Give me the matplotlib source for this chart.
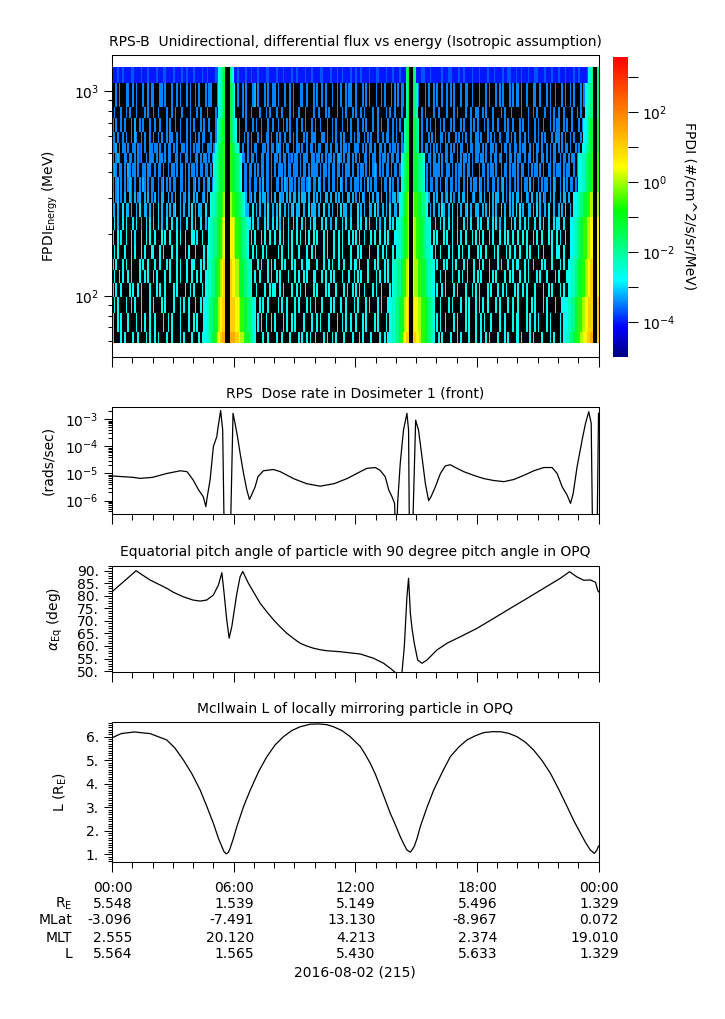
import numpy as np
import matplotlib
matplotlib.use("Agg")
import matplotlib.pyplot as plt
from matplotlib.colors import LinearSegmentedColormap, LogNorm
from matplotlib.ticker import (MultipleLocator, FixedLocator, NullFormatter,
                               NullLocator, FuncFormatter)
from matplotlib.transforms import blended_transform_factory

plt.rcParams["font.family"] = ["DejaVu Sans"]
plt.rcParams["font.size"] = 10

# ---------------- data ----------------
# spectrogram energy bin edges (MeV), low -> high
energy_edges = [58.5, 66.7, 82, 99, 115, 134, 152, 177, 209, 243, 283,
                322, 381, 443, 496, 555, 633, 735, 838, 1090, 1315]
n_cols = 288  # 5 minute bins over the day

# flux codes -> log10 flux (#/cm^2/s/sr/MeV); '.' = no counts (black)
level_codes = "abcdefghijklmn"
level_logs = [-4.0, -3.7, -3.45, -3.2, -2.95, -2.7, -2.3, -1.8, -1.2, -0.6, 0.0, 0.5, 1.0, 1.5]

# background hits per energy row, highest energy first (12 x 2h chunks)
bg_rows = [
    "aaabaabaaaabbaaaabaaabaa" "aabaaabbaaaabaaaabaabaaa" "baaaabaabaaaabbaaabaaaab" "aabaaaabaabaaabaaaabbaaa"
    "abaaabaaaabaabaaaabaaaba" "aaabbaaaabaaabaabaaaabaa" "baabaaaabaaabbaaaabaaaba" "aabaaabaaaabaaabbaaabaaa"
    "aaabaaabbaaaabaabaaaabaa" "abaaaabaaabaaaabaabbaaab" "aabaaabaaabbaaaabaaabaaa" "baaabaaaabaabaaaabaaabba",
    "..c.c...cc..c.c...c..c.c" "c...cc.c...c..c.c...c.c." ".c.c...c.cc...c..c.c...c" "..c..c.c...cd.c...c.c..c"
    "c.c...c..c.c...cc..c...c" ".c..c.c...c..c.c..c.cc.." "c...c.c.c...c..c.c...c.c" ".c.cc...c..c.c...c.c..c."
    "c..c..c.c.c...c..cc..c.." ".c...c.c...c.c.c...c.c.c" "c.c..c...cc..c...c.c..c." "..c.c..c.c...c.c..c...cc",
    ".c...c..c.c...c....c.c.." "c..c....c..c.c...c....c." "..c.c...c....c.c..c..c.." "c....c.c..c....c...c.c.."
    ".c..c....c.c..c...c....c" "..c...c.c....c..c.c...c." "c..c.c....c..c....c.c..c" "...c..c.c...c..c.c....c."
    ".c....c...c.c....c..c..c" "c..c.c...c....c.c...c..." "..c...c..c.c....c..c.c.." "c..c....c..c.c...c....c.",
    "c.c..c.c...c.d..c.c...c." ".c..c...c.c..c..c...c.c." "c...c.c..c...c.c..c.c..c" ".c.c...c...c.c..c...c..c"
    "..c..c.c.c...c..c.c...c." "c..c...c..c.c...c..c.c.." ".c..c.c...c..c.c...c..c." "c.c...c.c...c..c..c.c..c"
    "..c.c...c.c...c.c...c.c." "c...c.c..c..c...c.c..c.." ".c.c..c...c.c..c...c.c.c" "c..c.c..c...c.c..c...c..",
    "cc.c..c.c..c.dc..c.c..c." "c..c.c..c.cc..c.c...c.c." ".c.c.cc...c..c.c.c..c..c" "c..c..c.c.c...c.c..cc.c."
    ".c.c..c..c.c.c...c.c..cc" "c...cc.c..c.c..c.c...c.c" ".cc..c.c.c...c..c.cc..c." "c..c.c...c.cc..c...c.c.c"
    "..cc.c.c...c.c.c.c..c..c" "c.c...c.c.c..c...cc.c.c." ".c..c.c...c.c.c.c...c.cc" "c.c.c..c.c...c..c.c.c...",
    "ccd.c.cc.c..cc.cbc.c..cc" ".cc.c..c.cc.c.c..cc.c.c." "c.cc.c..ccc.c.c..c.cc..c" "cc.c.c..c.c.cc...cc.c.cc"
    ".cdc.c.cc..c.cc.c..c.cc." "c.cc..cc.c..cc.c.cc.c..c" "cc..c.c.cc.c..cc.c..c.cc" ".c.cc.c..c.cc..c.cc.c.c."
    "c.c..cc.c.c.c.cc..c.cc.c" "cc.c.c..cc.c..c.cc.c..cc" ".c.cc..c.c.cc.c..c.c.cc." "c.c.cc.c..c.c.cc.c..cc.c",
    "c.cdc..cc.cc.c.cbc..c.cc" "c.c.cc.c.cc..cc.c..cc.c." ".cc.c.cc.c.c..cbc.c.c.cc" "c.cc.cc.c.cc.c..cc.cc.c."
    "cc.c.cc.cbc.cc.c.ccc..cc" ".cc.c.c.cc.c.cdc.c.cc.c." "c.c..cc.c.cc..c.cc.c.cc." "cc.cc.c..c.c.cc.c..cc.cc"
    ".c.c.cc.cc..c.c.cc.c.c.c" "c.cc.c..c.cc.cc..c.cc.c." "cc..c.cc.c.c..cc.c.c.cc." ".c.cc.c.cc.c.c..cc.c.c.c",
    "cdc.cc.c.dc.cc.c..cc.cc." ".c.cc.c..c.cc.c.cc.c.c.c" "c.c.cc.cc.c.c.cc..c.cc.c" ".cc.c.cc.cc.c.c.cc.cc.c."
    "c.ccc.c.cc.ccc.c.cc.c.cc" "cc.c.cc.c.cc.cc.c.ccc.c." ".c.cc.c.c.cdc.c.c.cc.c.c" "c.c.c.cc.c..cc.cc.c.c.cc"
    "cc.c..cc.c.c.cc.c.cc.c.." ".c.cc.c.cc.c..c.cc.c.cc." "c.cc..c.c.cc.c.c..cc.c.c" "cc.c.cc..c.c.cc.c.c.cc.c",
    "c.cd.c.c.cdc.c..c.dc.c.c" "c..c.cd.c.c.cc..cc.c.c.." "cd.c..c.cd.c.c.c.cc.c.dc" "c.c.d.cc.c..cc.c.d.cc.c."
    ".cc.c.dc.cc.c.c.cc.cdc.c" "c.dc.c..c.cc.c.dc.c..c.c" "cc.c.c.d.c.cc..c.cc.d.c." ".c.cd.c.c..c.dc.c.c.cc.c"
    "c.c..dc.cc.c.c..c.d.c.cc" ".dc.c.c..cc.c.cd.c.c..c." "c.c.cc.d.c..c.c.cc.c.dc." ".c.d.c.cc.c.dc..c.c.c.cc",
    "d.cd.c.d..dc.d.cd..d.d.c" ".d.c.dd..d.c.d..d.cd.d.." "d.d..cd.d..d.dc.d..d.d.d" ".dd.d..d.cd.d..d.dd.c.d."
    "d..dcd.d.d.dd.d.ddd.d..d" ".d.d..dd.d..d.d.d..dd.d." "c.d.dc..d.d.cd.d..d.c.dd" ".d.cd.d..dd.d..c.d.d..d."
    "d..d.cd.d.c..d.dd.d..cd." ".cd.d..d.d.dd..d.c.d.d.d" "d.d..dc.d..d.d.dc..d.d.." ".d.dd.d..cd.d..d.d.dd.d.",
    "dd.d..e.dd.d..d.e..dd.d." "d..e.d..d.d.de..d.d..d.e" ".d.dd..e..d.d..d.ed..d.." "e..d.d.dd..e.d.d..d.e..d"
    ".d.e..d.d.de.dd..d..e.dd" "d.d..e..d.d..d.e.dd..d.." ".e.d.d..dd.e.d..d.d.e..d" "d..d.e.d..d.d.ed..d.d.d."
    ".d.ed..d.e..d.d..de.d..d" "d..d.d.e.d.d..e.d..d.d.e" ".e.d..dd.d.e.d..d.e..d.." "d.d.e..d..d.d.e.dd..d.e.",
    ".e.d..e.e...e.e..d..e.e." "e..e.d..e..e..e.d...e..e" ".e..e..d.e...e..e.e..e.." "e.e...e..e.e..d...e.e..e"
    ".e.d.e..e..e.e..e.d..e.e" "e...e.e..d..e...e.e..e.." ".e.e..e.e...e.d..e..e.e." "e..d.e...e.e..e.e...e..e"
    "..e.e..e.e..e...e.d.e..." "e.e...e..e.e.d..e...e.e." ".e..e.e...e..e.e..e..e.e" "e..e...e.e.d..e.e...e...",
    "f..f.e..f..f.e...f..f.f." ".f...f.f..f...f.f..f...f" "f.e..f...f.f..f...f.e..f" ".f.f...f..f.f...f.f..f.."
    "f..f.f..e.f..f.f..f.f..f" ".f...f.f...f..f.f...f.f." "f.f..e...f.f..f..f.f...f" "..f.f..f...f.f...f..f.f."
    "f...f.f..f..f.e..f...f.f" ".f.f...f.f...f..f.f..f.." "f..f.f...f.f..f...f.f..f" ".e..f..f.f...f.f..f...f.",
    ".f.f...f...f.f...f.f...f" "f...f.f....f..f....f.f.." ".f....f.f.f....f..f...f." "f.f...f....f.f...f.f...."
    "..f.f...f.f...f....f..f." "f....f.f...f..f.f....f.." ".f.f....f....f..f.f...f." "f...f.f...f.f....f...f.f"
    "..f....f.f...f.f...f...." "f.f..f....f.f....f.f..f." ".f...f.f....f..f....f..f" "f..f....f.f...f..f.f....",
    "f.f...f.f..f....f.f..f.." ".f..f...f.f...f.f...f..f" "f...f.f....f.f...f.f...f" ".f.f...f.f....f.f...f.f."
    "f...f.f...f.f...f..ff..." ".f...f..f.f...f..f...f.f" "f.f....f...f.f...f.f...." "..f.f....f...f.f....f.f."
    "f...f.f..f.f....f.f...f." ".f.f...f....f.f...f..f.f" "f...f.f..f....f.f...f..." ".f.f...f..f.f....f.f...f",
    ".f..f.f..f.f....f..f.f.." "f.f....f..f...f.f...f..f" "..f.f..f.f..f....f.f..f." "f....f.f..f.f..f....f.f."
    ".f.f....f...f.f..f.f...f" "f...f.f..f.f....f...f..f" ".f.f...f....f.f..f.f...." "f...f.f..f.f...f....f.f."
    "..f..f...f...f.f..f...f." "f.f....f.f.f....f..f.f.." ".f..f.f....f.f...f....f." "f....f..f.f...f.f..f...f",
    "f.f..f....f.f..f.f....f." "..f.f..f....f.f....f..f." "f....f.f..f....f..f.f..." ".f.f....f.f..f....f..f.f"
    "f..f.f....f..f.f..f....f" ".f....f.f...f....f.f..f." "f.f..f....f.f..f....f..." "..f....f.f....f.f..f..f."
    "f..f.f....f.f....f...f.f" ".f....f.f...f..f.f....f." "f..f.f....f....f..f.f..." ".f.f....f..f.f....f...f.",
    ".f.f....f..f.f...f....f." "f....f.f....f...f.f..f.." ".f..f....f.f..f....f...f" "f.f....f..f....f.f..f..."
    "..f.f..f....f.f....f.f.." "f...f....f.f...f..f....f" ".f....f.f....f.f...f.f.." "f..f.f....f.f....f....f."
    "..f....f.f....f..f.f...f" ".f.f..f....f.f....f..f.." "f....f..f.f....f.f....f." "..f.f....f..f.f....f.f..",
    "f..f.f...f....f..f.f..f." ".f....f..f.f....f....f.." "f.f....f....f.f..f.f...." "..f.f....f....f.f..f..f."
    "f....f.f..f.f....f....f." ".f.f....f....f..f.f..f.." "f...f.f....f.f....f..f.f" "..f....f.f....f.f...f..."
    "f.f..f....f.f....f.f...f" "..f.f...f....f..f....f.f" "f....f.f..f.f....f.f...." ".f.f....f....f.f...f..f.",
    "f....f.f....f..f....f.f." ".f.f....f..f....f.f....f" "...f.f..f....f..f....f.." "f.f....f..f.f....f..f..."
    ".f..f....f....f.f..f.f.." "f....f.f..f.f....f....f." "..f.f....f....f..f.f...f" "f....f..f.f....f....f.f."
    ".f.f....f...f.f....f...f" "..f..f.f....f...f.f....f" "f.f....f.f....f....f.f.." ".f..f....f.f....f..f...f",
]

# radiation belt passes: (first 5-min column, codes) per row, highest energy first
pass1 = [(63, "fghi...hf"), (63, "fghi...ihf"), (63, "fghi...ihf"), (62, "fghii...ihgf"),
         (62, "fghii...ihgf"), (61, "fghiij...jihgf"), (60, "fgghiij...jiihhgf"),
         (60, "fgghiij...jiihhgf"), (60, "fgghiij...jiihhgf"), (58, "fgghhiijk...kjjiihhgf"),
         (58, "fgghhiijk...kjjiihhgf"), (57, "fgghhiijkl...llkjjiihhgf"),
         (57, "fgghhiijkl...llkjjiihhgf"), (57, "fgghhiijkl...llkjjiihhgf"),
         (56, "fgghhiijklm...mllkkjiihhggf"), (56, "fgghhiijklm...mllkkjiihhggf"),
         (56, "fgghhiijklm...mllkkjiihhggf"), (54, "ffgghhiijklmm...mmmllkjjiihhggf"),
         (54, "ffgghhiijklmm...mmmllkjjiihhggf"), (54, "ffgghiijklmnn...nnnmmlkkjiihhgf")]
pass2 = [(174, "hi..ih"), (174, "gi..ihg"), (174, "gi..ihg"), (173, "ghi..iihg"),
         (173, "ghi..iihg"), (173, "ghi..iihg"), (171, "fghij..jiihhgf"),
         (171, "fghij..jiihhgf"), (171, "fghij..jiihhgf"), (170, "fghijk..kjjiihhgf"),
         (170, "fghijk..kjjiihhgf"), (168, "fgghhijk..lkjjiihhggf"),
         (168, "fgghhijk..lkjjiihhggf"), (168, "fgghhijk..lkjjiihhggf"),
         (166, "fgghhiijkl..lkkjjiihhggf"), (166, "fgghhiijkl..lkkjjiihhggf"),
         (166, "fgghhiijkl..lkkjjiihhggf"), (164, "ffgghhiijklm..mllkkjjiihhgf"),
         (164, "ffgghhiijklm..mllkkjjiihhgf"), (164, "ffgghhijklmm..mmllkjjiihhgf")]
pass3 = [(282, "fgh..h"), (280, "ffghh..h"), (280, "ffghh..h"), (279, "ffghii..i"),
         (279, "ffghii..i"), (278, "ffghhii..i"), (276, "ffgghhiij..j"), (276, "ffgghhiij..j"),
         (276, "ffgghhiij..j"), (273, "ffgghhiijjkk..k"), (273, "ffgghhiijjkk..k"),
         (271, "ffgghhiijjkkll..l"), (271, "ffgghhiijjkkll..l"), (271, "ffgghhiijjkkll..l"),
         (270, "ffgghhiijjkklmm..l"), (270, "ffgghhiijjkklmm..l"), (270, "ffgghhiijjkklmm..l"),
         (267, "fffgghhiijjkkllmmm..m"), (267, "fffgghhiijjkkllmmm..m"),
         (267, "ffgghhiijjkkllmmnn..m")]

# dose rate, Dosimeter 1 (rads/sec); 1e-8 = below the plotted range
dose_hours = [0.0, 1.05, 1.38, 2.0, 2.7, 3.37, 3.7, 4.0, 4.27, 4.5, 4.63, 4.7, 4.84, 5.0,
              5.17, 5.24, 5.36, 5.46, 5.55, 5.82, 5.97, 6.07, 6.19, 6.32, 6.49, 6.65, 6.78,
              6.9, 7.06, 7.2, 7.47, 7.96, 8.3, 8.95, 9.6, 10.27, 10.95, 11.6, 12.25, 12.58,
              12.99, 13.23, 13.48, 13.65, 13.81, 13.94, 14.02, 14.09, 14.22, 14.38, 14.55,
              14.63, 14.68, 14.8, 14.98, 15.12, 15.29, 15.46, 15.62, 15.74, 15.95, 16.2,
              16.44, 16.69, 16.94, 17.35, 17.85, 18.34, 18.83, 19.33, 19.82, 20.31, 20.81,
              21.3, 21.71, 21.96, 22.21, 22.45, 22.62, 22.75, 22.94, 23.19, 23.36, 23.52,
              23.64, 23.72, 23.92, 24.0]
dose_rate = [8.1e-6, 7.2e-6, 6.6e-6, 7.2e-6, 1.0e-5, 1.26e-5, 1.17e-5, 5.8e-6, 2.5e-6, 1.4e-6,
             6.0e-7, 1.4e-6, 5.8e-6, 9.8e-5, 2.3e-4, 5.6e-4, 2.1e-3, 4.0e-4, 1e-8, 1e-8,
             1.66e-3, 7.1e-4, 2.3e-4, 5.6e-5, 1.0e-5, 2.5e-6, 1.1e-6, 1.7e-6, 3.2e-6, 7.6e-6,
             1.26e-5, 1.4e-5, 1.17e-5, 6.5e-6, 4.2e-6, 3.4e-6, 4.2e-6, 6.5e-6, 1.17e-5,
             1.55e-5, 1.66e-5, 1.3e-5, 7.6e-6, 2.5e-6, 1.4e-6, 7.9e-7, 1e-8, 7.9e-7, 2.4e-5,
             4.0e-4, 1.66e-3, 4.0e-4, 1e-8, 1e-8, 9.3e-4, 4.0e-4, 4.2e-5, 4.2e-6, 1.0e-6,
             1.4e-6, 3.2e-6, 1.0e-5, 1.9e-5, 2.1e-5, 1.66e-5, 1.17e-5, 8.5e-6, 6.5e-6, 5.5e-6,
             5.0e-6, 6.0e-6, 8.5e-6, 1.26e-5, 1.66e-5, 1.66e-5, 1.0e-5, 3.2e-6, 1.6e-6,
             7.9e-7, 1.8e-6, 1.7e-5, 1.7e-4, 7.1e-4, 1.9e-3, 7.1e-4, 1e-8, 1e-8, 1.66e-3]

# equatorial pitch angle (deg)
pa_hours = [0.0, 1.19, 1.5, 1.88, 2.3, 2.7, 3.03, 3.52, 4.0, 4.35, 4.67, 5.0, 5.25, 5.42,
            5.53, 5.66, 5.78, 5.91, 6.16, 6.32, 6.45, 6.73, 7.31, 7.64, 7.97, 8.3, 8.62,
            8.95, 9.28, 9.6, 9.94, 10.27, 10.6, 11.26, 12.25, 12.9, 13.4, 13.73, 13.98,
            14.3, 14.42, 14.55, 14.63, 14.72, 14.8, 14.91, 15.08, 15.29, 15.54, 16.03,
            16.53, 17.19, 18.0, 18.83, 19.65, 20.48, 21.3, 22.12, 22.57, 22.94, 23.27,
            23.6, 23.85, 23.97, 24.0]
pa_deg = [81.6, 90.0, 88.3, 86.3, 84.6, 83.0, 81.4, 79.6, 78.3, 77.9, 78.3, 80.3, 84.3, 89.2,
          81.0, 70.4, 63.1, 67.7, 81.0, 87.6, 89.7, 85.0, 77.0, 73.6, 70.4, 67.6, 65.1,
          63.0, 61.1, 60.0, 59.1, 58.5, 58.1, 57.7, 56.8, 55.1, 53.1, 51.1, 49.4,
          49.0, 59.7, 79.6, 87.0, 73.0, 67.0, 61.1, 54.4, 53.1, 54.4, 58.4,
          61.1, 63.7, 67.0, 71.0, 75.0, 79.0, 83.0, 87.0, 89.6, 87.5, 86.2,
          86.3, 85.4, 82.0, 81.6]

# McIlwain L (Earth radii)
l_hours = [0.0, 0.45, 1.1, 1.88, 2.7, 3.11, 3.52, 3.93, 4.35, 4.68, 5.0, 5.25, 5.42, 5.52,
           5.63, 5.74, 5.83, 5.99, 6.16, 6.49, 6.82, 7.23, 7.64, 8.05, 8.46, 8.87, 9.28,
           9.78, 10.19, 10.6, 10.93, 11.34, 11.75, 12.25, 12.49, 12.74, 12.99, 13.23, 13.48,
           13.73, 13.98, 14.22, 14.39, 14.55, 14.72, 14.91, 15.05, 15.21, 15.54, 15.87,
           16.28, 16.69, 17.1, 17.51, 17.93, 18.33, 18.75, 19.16, 19.57, 19.98, 20.4, 20.8,
           21.22, 21.63, 22.04, 22.45, 22.78, 23.11, 23.36, 23.6, 23.8, 23.92, 24.0]
l_value = [5.95, 6.13, 6.2, 6.13, 5.86, 5.51, 5.01, 4.44, 3.73, 3.03, 2.32, 1.68, 1.33, 1.12,
           1.02, 1.08, 1.26, 1.68, 2.18, 3.03, 3.73, 4.51, 5.15, 5.65, 6.0, 6.26, 6.42,
           6.53, 6.54, 6.51, 6.42, 6.26, 6.0, 5.58, 5.25, 4.87, 4.41, 3.88, 3.31,
           2.74, 2.25, 1.75, 1.44, 1.18, 1.09, 1.33, 1.68, 2.18, 3.0, 3.73,
           4.47, 5.15, 5.55, 5.86, 6.04, 6.17, 6.21, 6.21, 6.14, 6.0, 5.76, 5.43,
           4.98, 4.44, 3.76, 3.03, 2.43, 1.90, 1.5, 1.18, 1.04, 1.18, 1.35]

# ephemeris table under the plot
time_labels = ["00:00", "06:00", "12:00", "18:00", "00:00"]
re_vals = ["5.548", "1.539", "5.149", "5.496", "1.329"]
mlat_vals = ["-3.096", "-7.491", "13.130", "-8.967", "0.072"]
mlt_vals = ["2.555", "20.120", "4.213", "2.374", "19.010"]
l_vals = ["5.564", "1.565", "5.430", "5.633", "1.329"]
table_hours = [0, 6, 12, 18, 24]

# ---------------- build spectrogram grid ----------------
code_to_log = dict(zip(level_codes, level_logs))
grid = []
for r in range(len(bg_rows)):
    row = list((bg_rows[r] + "." * n_cols)[:n_cols])
    for seg in (pass1, pass2, pass3):
        start, codes = seg[r]
        for k, ch in enumerate(codes):
            if start + k < n_cols:
                row[start + k] = ch
    grid.append([10.0 ** code_to_log[ch] if ch != "." else 1e-12 for ch in row])
flux = np.array(grid[::-1])
t_edges = np.linspace(0, 24, n_cols + 1)

cmap = LinearSegmentedColormap.from_list("rainbow_idl", [
    (0.0, (0, 0, 0.5)), (0.1, (0, 0, 1)), (0.255, (0, 1, 1)), (0.49, (0, 1, 0)),
    (0.633, (1, 1, 0)), (0.8, (1, 0.55, 0)), (1.0, (1, 0, 0))])
cmap.set_under("black")
norm = LogNorm(vmin=1e-5, vmax=10 ** 3.58)

# ---------------- figure ----------------
W, H = 725.0, 1019.0
fig = plt.figure(figsize=(W / 100, H / 100), dpi=100)


def px_axes(left, top, right, bottom):
    return fig.add_axes([left / W, 1 - bottom / H, (right - left) / W, (bottom - top) / H])


ax1 = px_axes(112, 55.3, 598.5, 356.7)
ax2 = px_axes(112, 407.3, 598.5, 514)
ax3 = px_axes(112, 565.7, 598.5, 672.3)
ax4 = px_axes(112, 722.3, 598.5, 862.3)
cax = px_axes(613.3, 56.7, 627.7, 357.3)

mesh = ax1.pcolormesh(t_edges, energy_edges, flux, cmap=cmap, norm=norm,
                      shading="flat", antialiased=False, edgecolors="none")
ax1.set_yscale("log")
ax1.set_ylim(50.4, 1494)
ax1.yaxis.set_major_locator(FixedLocator([100, 1000]))
ax1.yaxis.set_minor_locator(FixedLocator([k * 10 ** e for e in (1, 2, 3) for k in range(2, 10)]))
ax1.yaxis.set_minor_formatter(NullFormatter())

ax2.plot(dose_hours, dose_rate, color="black", lw=0.9)
ax2.set_yscale("log")
ax2.set_ylim(3.2e-7, 2.77e-3)
ax2.yaxis.set_major_locator(FixedLocator([1e-6, 1e-5, 1e-4, 1e-3]))
ax2.yaxis.set_minor_locator(FixedLocator([k * 10.0 ** e for e in range(-7, -2) for k in range(2, 10)]))
ax2.yaxis.set_minor_formatter(NullFormatter())

ax3.plot(pa_hours, pa_deg, color="black", lw=0.9)
ax3.set_ylim(49.5, 92)
ax3.yaxis.set_major_locator(MultipleLocator(5))
ax3.yaxis.set_minor_locator(MultipleLocator(1))
ax3.yaxis.set_major_formatter(FuncFormatter(lambda v, p: f"{v:.0f}."))

ax4.plot(l_hours, l_value, color="black", lw=0.9)
ax4.set_ylim(0.66, 6.61)
ax4.yaxis.set_major_locator(MultipleLocator(1))
ax4.yaxis.set_minor_locator(MultipleLocator(0.1))
ax4.yaxis.set_major_formatter(FuncFormatter(lambda v, p: f"{v:.0f}."))

titles = ["RPS-B  Unidirectional, differential flux vs energy (Isotropic assumption)",
          "RPS  Dose rate in Dosimeter 1 (front)",
          "Equatorial pitch angle of particle with 90 degree pitch angle in OPQ",
          "McIlwain L of locally mirroring particle in OPQ"]
for ax, title in zip((ax1, ax2, ax3, ax4), titles):
    ax.set_xlim(0, 24)
    ax.xaxis.set_major_locator(FixedLocator([0, 6, 12, 18, 24]))
    ax.xaxis.set_minor_locator(MultipleLocator(1))
    ax.tick_params(axis="x", which="both", direction="out", top=False, labelbottom=False, width=0.75)
    ax.tick_params(axis="x", which="major", length=7)
    ax.tick_params(axis="x", which="minor", length=4.3)
    ax.tick_params(axis="y", which="both", direction="out", right=False, width=0.75, labelsize=10)
    ax.tick_params(axis="y", which="major", length=5.5, pad=4)
    ax.tick_params(axis="y", which="minor", length=3.2)
    for s in ax.spines.values():
        s.set_linewidth(0.75)
    ax.set_title(title, fontsize=10, pad=6.8)

# y labels
ylabels = [(ax1, 50, "FPDI$_{\\mathrm{Energy}}$ (MeV)"), (ax2, 48, "(rads/sec)"),
           (ax3, 55, "$\\alpha_{\\mathrm{Eq}}$ (deg)"), (ax4, 60, "L (R$_{\\mathrm{E}}$)")]
for ax, xpx, lab in ylabels:
    ax.text((xpx - 112) / 486.5, 0.5, lab, transform=ax.transAxes, rotation=90,
            ha="center", va="center", fontsize=10)

# colorbar
cbar = fig.colorbar(mesh, cax=cax)
cbar.outline.set_visible(False)
cbar.set_ticks([10.0 ** e for e in range(-4, 4)])
cax.yaxis.set_major_formatter(FuncFormatter(
    lambda v, p: f"$10^{{{int(round(np.log10(v)))}}}$" if int(round(np.log10(v))) % 2 == 0 else ""))
cax.yaxis.set_minor_locator(NullLocator())
cax.tick_params(axis="y", which="major", direction="out", length=7, width=0.75, pad=3, labelsize=10)
fig.text(690 / W, 1 - 206 / H, "FPDI (#/cm^2/s/sr/MeV)", rotation=270,
         ha="center", va="center", fontsize=10)

# ephemeris table
row_base = [891.7, 908.0, 924.5, 941.5, 958.3]
row_names = ["", "R$_{\\mathrm{E}}$", "MLat", "MLT", "L"]
row_vals = [time_labels, re_vals, mlat_vals, mlt_vals, l_vals]
btr = blended_transform_factory(ax4.transData, fig.transFigure)
for yb, name, vals in zip(row_base, row_names, row_vals):
    if name:
        fig.text(72 / W, 1 - yb / H, name, ha="right", va="baseline", fontsize=10)
    for h, v in zip(table_hours, vals):
        fig.text(h + 1.0, 1 - yb / H, v, transform=btr, ha="right", va="baseline", fontsize=10)
fig.text(355 / W, 1 - 977 / H, "2016-08-02 (215)", ha="center", va="baseline", fontsize=10)

fig.savefig("out.png", dpi=100)
